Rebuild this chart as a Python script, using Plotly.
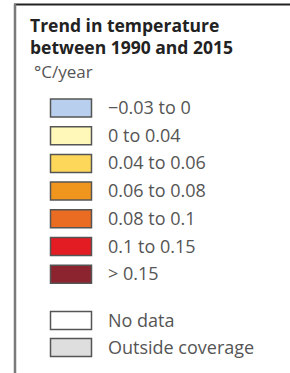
import plotly.graph_objects as go

title_lines = ["Trend in temperature", "between 1990 and 2015"]
unit_label = "°C/year"
class_labels = ["\u22120.03 to 0", "0 to 0.04", "0.04 to 0.06", "0.06 to 0.08",
                "0.08 to 0.1", "0.1 to 0.15", "> 0.15"]
class_colors = ["#b9cfee", "#fff8b8", "#fdd75a", "#f0961f", "#ea6b22", "#e31b22", "#8c2430"]
extra_labels = ["No data", "Outside coverage"]
extra_colors = ["#ffffff", "#dedede"]

W, H = 290, 373
fig = go.Figure()
fig.add_trace(go.Scatter(x=[0, W], y=[0, H], mode="markers",
                         marker=dict(opacity=0), hoverinfo="skip", showlegend=False))

shapes = []
annotations = []
# frame
shapes.append(dict(type="line", x0=14, x1=W, y0=4.5, y1=4.5, xref="x", yref="y",
                   line=dict(color="#222222", width=2)))
shapes.append(dict(type="line", x0=15, x1=15, y0=4, y1=H, xref="x", yref="y",
                   line=dict(color="#7a7a7a", width=2.5)))

for i, t in enumerate(title_lines):
    annotations.append(dict(x=28, y=24.5 + 22.5 * i, xref="x", yref="y", text="<b>%s</b>" % t,
                            showarrow=False, xanchor="left", yanchor="middle",
                            font=dict(family="Open Sans", size=17.5, color="#222222")))
annotations.append(dict(x=32, y=71, xref="x", yref="y", text=unit_label, showarrow=False,
                        xanchor="left", yanchor="middle",
                        font=dict(family="Open Sans", size=17, color="#555555")))

def swatch(top, color, label):
    shapes.append(dict(type="rect", x0=50.5, x1=91.5, y0=top, y1=top + 18, xref="x", yref="y",
                       fillcolor=color, line=dict(color="#555555", width=1.5)))
    annotations.append(dict(x=106, y=top + 8, xref="x", yref="y", text=label, showarrow=False,
                            xanchor="left", yanchor="middle",
                            font=dict(family="Open Sans", size=18, color="#555555")))

step = 27.7
for i, (lab, col) in enumerate(zip(class_labels, class_colors)):
    swatch(99 + step * i, col, lab)
for i, (lab, col) in enumerate(zip(extra_labels, extra_colors)):
    swatch(311.5 + 27 * i, col, lab)

fig.update_layout(width=W, height=H, margin=dict(l=0, r=0, t=0, b=0),
                  paper_bgcolor="white", plot_bgcolor="white",
                  xaxis=dict(range=[0, W], visible=False, fixedrange=True),
                  yaxis=dict(range=[H, 0], visible=False, fixedrange=True),
                  shapes=shapes, annotations=annotations, showlegend=False)
fig.write_html("out.html", config={"displayModeBar": False},
               post_script="document.body.style.margin='0';document.body.style.overflow='hidden';")
